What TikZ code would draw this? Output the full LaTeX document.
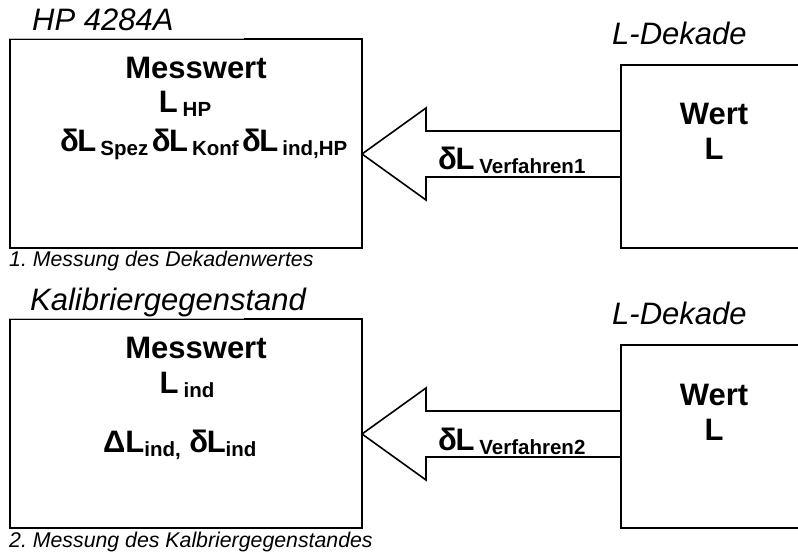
\documentclass[tikz,border=0pt]{standalone}
\usepackage{fontspec}
\setmainfont{Liberation Sans}
\newcommand\subtx[1]{\raisebox{-4pt}{\fontsize{20.5}{22}\selectfont\bfseries #1}}
\newcommand\dL{δ\kern-1.5pt L}
\begin{document}
\frenchspacing
\begin{tikzpicture}[x=1pt,y=-1pt]
\useasboundingbox (0,0) rectangle (798,553);
\clip (0,0) rectangle (798,553);
\tikzset{
  box/.style={draw, line width=1.6pt, inner sep=0pt, anchor=north west},
  ttl/.style={anchor=base west, inner sep=0pt, font=\itshape\fontsize{31}{31}\selectfont},
  capt/.style={anchor=base west, inner sep=0pt, font=\itshape\fontsize{21.3}{21.3}\selectfont},
  bigtx/.style={inner sep=0pt, font=\bfseries\fontsize{31}{31}\selectfont},
  blockarrow/.style={draw, line width=1.6pt, line join=miter},
  lightedge/.style={draw=gray!55, line width=0.9pt}
}
% ---------- part 1 ----------
\node[box, minimum width=352pt, minimum height=209pt] (hp) at (9,38) {};
\node[box, minimum width=200pt, minimum height=183pt] (dek1) at (620,64) {};
\draw[white, line width=2pt] (9.8,38) -- (244,38);
\draw[lightedge] (9,38) -- (244,38);
\node[ttl] (t1) at (32,31) {HP 4284A};
\node[ttl] (t2) at (612,45) {L-Dekade};
\node[bigtx, anchor=base] (m1) at (196,79) {Messwert};
\node[bigtx, anchor=base] (l1) at (185,113) {L\hspace{5pt}\subtx{HP}};
\node[bigtx, anchor=base west] (d1) at (60,152) {\dL\hspace{4pt}\subtx{Spez}\hspace{3.5pt}\dL\hspace{4pt}\subtx{Konf}\hspace{3.5pt}\dL\hspace{4pt}\subtx{ind,HP}};
\node[bigtx, anchor=base] (w1) at (714,125) {Wert};
\node[bigtx, anchor=base] (wl1) at (714,160) {L};
\node[capt] (c1) at (9,267) {1. Messung des Dekadenwertes};
\coordinate (tip1) at (362,154);
\draw[blockarrow] (dek1.west |- 0,131) -- (426,131) -- (426,108) -- (tip1) -- (426,200) -- (426,177) -- (dek1.west |- 0,177);
\node[bigtx, anchor=base west] (v1) at (438,170) {\dL\hspace{5pt}\subtx{Verfahren1}};
% ---------- part 2 ----------
\node[box, minimum width=352pt, minimum height=209pt] (kg) at (9,318) {};
\node[box, minimum width=200pt, minimum height=183pt] (dek2) at (620,344) {};
\draw[white, line width=2pt] (9.8,318) -- (244,318);
\draw[lightedge] (9,318) -- (244,318);
\node[ttl] (t3) at (30,311) {Kalibriergegenstand};
\node[ttl] (t4) at (612,325) {L-Dekade};
\node[bigtx, anchor=base] (m2) at (196,359) {Messwert};
\node[bigtx, anchor=base] (l2) at (187,393) {L\hspace{5pt}\subtx{ind}};
\node[bigtx, anchor=base west] (d2) at (103,452) {ΔL\subtx{ind,} \dL\subtx{ind}};
\node[bigtx, anchor=base] (w2) at (714,405) {Wert};
\node[bigtx, anchor=base] (wl2) at (714,440) {L};
\node[capt] (c2) at (9,547) {2. Messung des Kalbriergegenstandes};
\coordinate (tip2) at (362,434);
\draw[blockarrow] (dek2.west |- 0,411) -- (426,411) -- (426,388) -- (tip2) -- (426,480) -- (426,457) -- (dek2.west |- 0,457);
\node[bigtx, anchor=base west] (v2) at (438,450) {\dL\hspace{5pt}\subtx{Verfahren2}};
\end{tikzpicture}
\end{document}
